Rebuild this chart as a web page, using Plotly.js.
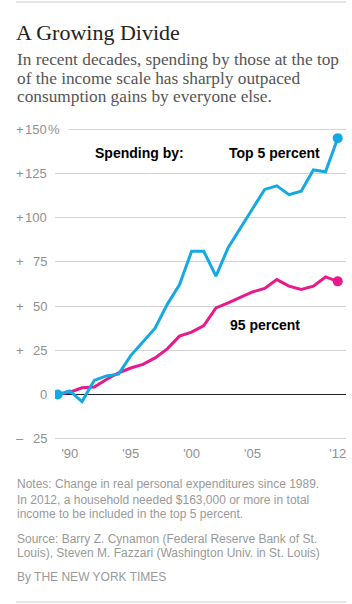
<!DOCTYPE html>
<html>
<head>
<meta charset="utf-8">
<script src="https://cdn.plot.ly/plotly-3.0.1.min.js"></script>
<style>
html,body{margin:0;padding:0;background:#fff;}
#chart{width:352px;height:604px;}
</style>
</head>
<body>
<div id="chart"></div>
<script>
// ---- Data ----
const years = [1989,1990,1991,1992,1993,1994,1995,1996,1997,1998,1999,2000,2001,2002,2003,2004,2005,2006,2007,2008,2009,2010,2011,2012];
const top5 = [0,2,-4,8,10.5,11.5,22,29.5,37.5,51,62,81,81,67,83,94,105,116,118,113,115,127,126,145];
const pct95 = [0,1.3,3.8,4.2,8.5,12.3,15,17,20.7,25.8,33,35.3,39,49,51.8,54.7,58,60,65,61.3,59.4,61.3,66.5,64];

const xTickVals = [1990,1995,2000,2005,2012];
const xTickText = ["'90","'95","'00","'05","'12"];
const yTickVals = [150,125,100,75,50,25,0,-25];
const yTickSigns = ["+","+","+","+","+","+","","\u2013"];
const yTickNums = ["150","125","100","75","50","25","0","25"];

const titleText = "A Growing Divide";
const subtitleLines = [
  "In recent decades, spending by those at the top",
  "of the income scale has sharply outpaced",
  "consumption gains by everyone else."
];
const noteLines = [
  "Notes: Change in real personal expenditures since 1989.",
  "In 2012, a household needed $163,000 or more in total",
  "income to be included in the top 5 percent."
];
const sourceLines = [
  "Source: Barry Z. Cynamon (Federal Reserve Bank of St.",
  "Louis), Steven M. Fazzari (Washington Univ. in St. Louis)"
];
const creditText = "By THE NEW YORK TIMES";

// ---- Layout helpers (pixel -> paper) ----
const W = 352, H = 604;
const L = 55, R = 6, T = 124, B = 160;
const PW = W - L - R, PH = H - T - B;
const px = x => (x - L) / PW;
const py = y => (T + PH - y) / PH;

const blue = '#14a9e3';
const pink = '#e8198b';
const last = years.length - 1;

const traces = [
  {
    x: years, y: pct95, type: 'scatter', mode: 'lines',
    line: {color: pink, width: 3}, hoverinfo: 'skip'
  },
  {
    x: years, y: top5, type: 'scatter', mode: 'lines',
    line: {color: blue, width: 3}, hoverinfo: 'skip'
  },
  {
    x: [years[last]], y: [pct95[last]], type: 'scatter', mode: 'markers',
    marker: {color: pink, size: 10, line: {width: 0}}, hoverinfo: 'skip'
  },
  {
    x: [years[0], years[last]], y: [top5[0], top5[last]], type: 'scatter', mode: 'markers',
    marker: {color: blue, size: 10, line: {width: 0}}, hoverinfo: 'skip'
  }
];

const annotations = [];
const grayTick = '#8f8f8f';
const tickFont = {family: 'Liberation Sans, Arial, sans-serif', size: 13, color: grayTick};
// y tick labels
yTickVals.forEach((v, i) => {
  annotations.push({
    xref: 'paper', yref: 'y', x: px(48), y: v, xanchor: 'right', yanchor: 'middle',
    text: yTickNums[i], showarrow: false, borderpad: 0, font: tickFont
  });
  if (yTickSigns[i]) {
    annotations.push({
      xref: 'paper', yref: 'y', x: px(15), y: v, xanchor: 'left', yanchor: 'middle',
      text: yTickSigns[i], showarrow: false, borderpad: 0, font: tickFont
    });
  }
});
annotations.push({
  xref: 'paper', yref: 'y', x: px(47), y: yTickVals[0], xanchor: 'left', yanchor: 'middle',
  text: '%', showarrow: false, bgcolor: '#ffffff', borderpad: 0, width: 20, align: 'left',
  font: tickFont
});

// series labels
const labFont = {family: 'Liberation Sans, Arial, sans-serif', size: 14, color: '#000'};
annotations.push({xref:'paper', yref:'paper', x: px(139.5), y: py(153), xanchor:'center', yanchor:'middle',
  text: '<b>Spending by:</b>', showarrow:false, font: labFont});
annotations.push({xref:'paper', yref:'paper', x: px(274), y: py(153), xanchor:'center', yanchor:'middle',
  text: '<b>Top 5 percent</b>', showarrow:false, font: labFont});
annotations.push({xref:'paper', yref:'paper', x: px(264.5), y: py(325), xanchor:'center', yanchor:'middle',
  text: '<b>95 percent</b>', showarrow:false, font: labFont});

// subtitle lines
const subY = [59.5, 78.3, 97];
subtitleLines.forEach((t, i) => {
  annotations.push({xref:'paper', yref:'paper', x: px(15), y: py(subY[i]), xanchor:'left', yanchor:'middle',
    text: t, showarrow:false, font:{family:'Liberation Serif, Georgia, serif', size:17.3, color:'#555'}});
});
// notes
const noteFont = {family:'Liberation Sans, Arial, sans-serif', size:12, color:'#999'};
const noteY = [484, 499.5, 514];
noteLines.forEach((t, i) => {
  annotations.push({xref:'paper', yref:'paper', x: px(15), y: py(noteY[i]), xanchor:'left', yanchor:'middle',
    text: t, showarrow:false, font: noteFont});
});
const srcY = [539, 553];
sourceLines.forEach((t, i) => {
  annotations.push({xref:'paper', yref:'paper', x: px(15), y: py(srcY[i]), xanchor:'left', yanchor:'middle',
    text: t, showarrow:false, font: noteFont});
});
annotations.push({xref:'paper', yref:'paper', x: px(15), y: py(577), xanchor:'left', yanchor:'middle',
  text: creditText, showarrow:false, font: noteFont});

const shapes = [
  {type:'line', xref:'paper', yref:'paper', x0: px(16), x1: px(346), y0: py(2), y1: py(2), line:{color:'#dddddd', width:1.5}},
  {type:'line', xref:'paper', yref:'paper', x0: px(16), x1: px(346), y0: py(602), y1: py(602), line:{color:'#dddddd', width:1.5}}
];

const layout = {
  width: W, height: H,
  margin: {l: L, r: R, t: T, b: B, pad: 0},
  paper_bgcolor: '#fff', plot_bgcolor: '#fff',
  showlegend: false,
  title: {
    text: titleText, xref: 'container', yref: 'container',
    x: 16 / W, xanchor: 'left', y: 1 - 32 / H, yanchor: 'middle',
    font: {family: 'Liberation Serif, Georgia, serif', size: 22, color: '#222'}
  },
  xaxis: {
    range: [1988.78, 2012.68], tickmode: 'array', tickvals: xTickVals, ticktext: xTickText,
    showgrid: false, zeroline: false, showline: false, ticks: '',
    tickfont: tickFont, fixedrange: true
  },
  yaxis: {
    range: [-28, 153], tickmode: 'array', tickvals: yTickVals, showticklabels: false,
    showgrid: true, gridcolor: '#d4d4d4', gridwidth: 1,
    zeroline: true, zerolinecolor: '#222', zerolinewidth: 1,
    showline: false, ticks: '', fixedrange: true
  },
  annotations: annotations,
  shapes: shapes
};

Plotly.newPlot('chart', traces, layout, {staticPlot: true, displayModeBar: false});
</script>
</body>
</html>
